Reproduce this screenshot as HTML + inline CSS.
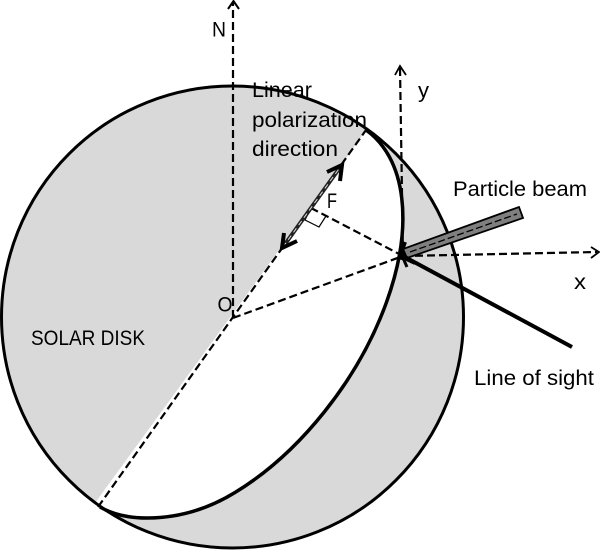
<!DOCTYPE html>
<html>
<head>
<meta charset="utf-8">
<style>
html,body{margin:0;padding:0;background:#fff;width:600px;height:552px;overflow:hidden}
svg{display:block;width:600px;height:552px;overflow:hidden}
text{font-family:"Liberation Sans",sans-serif;font-size:21px;fill:#000}
</style>
</head>
<body>
<svg width="600" height="552" viewBox="0 0 600 552" xmlns="http://www.w3.org/2000/svg">
<circle cx="232.500" cy="317" r="231" fill="#d9d9d9"/>
<path d="M366 130 A231 130 -54.6 0 1 235 492.500 C210 507.800 180 518 147 518 C128 518 112 514 100 507 Z" fill="#fff"/>
<polygon points="282,246 95,503 100,507 285,250" fill="#fff"/>
<path d="M366 130 A231 130 -54.6 0 1 235 492.500 C210 507.800 180 518 147 518 C128 518 112 514 100 507" fill="none" stroke="#000" stroke-width="3.500"/>
<circle cx="232.500" cy="317" r="231" fill="none" stroke="#000" stroke-width="3"/>

<g fill="none" stroke="#000" stroke-width="2.200" stroke-dasharray="8 4">
<line x1="233" y1="318" x2="233" y2="3"/>
<line x1="98" y1="507" x2="366" y2="130"/>
<line x1="233" y1="318" x2="403" y2="256"/>
<line x1="403" y1="256" x2="311" y2="208"/>
<line x1="403" y1="256" x2="597" y2="252"/>
<line x1="403" y1="256" x2="400" y2="68"/>
</g>
<polyline points="228,9 233.500,1 239,9" fill="none" stroke="#000" stroke-width="2"/>
<polyline points="395,75 400,66 406,75" fill="none" stroke="#000" stroke-width="1.800"/>
<polyline points="591,247 599,252 591,258" fill="none" stroke="#000" stroke-width="1.800"/>
<polyline points="311,208 305,220 319,227 326,216" fill="none" stroke="#000" stroke-width="1.200"/>

<line x1="283" y1="247" x2="341" y2="166" stroke="#222" stroke-width="4"/>
<line x1="283" y1="247" x2="341" y2="166" stroke="#ddd" stroke-width="1" stroke-dasharray="5 4"/>
<polyline points="327,172 342,165 340,181" fill="none" stroke="#000" stroke-width="4"/>
<polyline points="284,233 282,248 297,241" fill="none" stroke="#000" stroke-width="4"/>

<polygon points="519,207 523,218 407,258 403,249" fill="#7f7f7f" stroke="#000" stroke-width="1.800"/>
<line x1="410" y1="252" x2="517" y2="214" stroke="#000" stroke-width="1.300" stroke-dasharray="7 3"/>
<line x1="403" y1="256" x2="572" y2="347" stroke="#000" stroke-width="4"/>
<polyline points="405,242 400,256 415,263" fill="none" stroke="#000" stroke-width="4"/>
<circle cx="402" cy="256" r="4" fill="#000"/>
<line x1="403" y1="258" x2="407" y2="267" stroke="#000" stroke-width="3"/>

<text x="212" y="36.500" textLength="14" lengthAdjust="spacingAndGlyphs">N</text>
<text x="252" y="97" textLength="60" lengthAdjust="spacingAndGlyphs">Linear</text>
<text x="252" y="127" textLength="115" lengthAdjust="spacingAndGlyphs">polarization</text>
<text x="252" y="156" textLength="86" lengthAdjust="spacingAndGlyphs">direction</text>
<text x="418" y="97.500" textLength="11" lengthAdjust="spacingAndGlyphs">y</text>
<text x="327" y="208" textLength="10" lengthAdjust="spacingAndGlyphs">F</text>
<text x="453" y="196" textLength="134" lengthAdjust="spacingAndGlyphs">Particle beam</text>
<text x="574" y="289" textLength="12" lengthAdjust="spacingAndGlyphs">x</text>
<text x="217.500" y="311.500" textLength="15" lengthAdjust="spacingAndGlyphs">O</text>
<text x="31" y="345" textLength="114" lengthAdjust="spacingAndGlyphs">SOLAR DISK</text>
<text x="474" y="385" textLength="120" lengthAdjust="spacingAndGlyphs">Line of sight</text>
</svg>
</body>
</html>
